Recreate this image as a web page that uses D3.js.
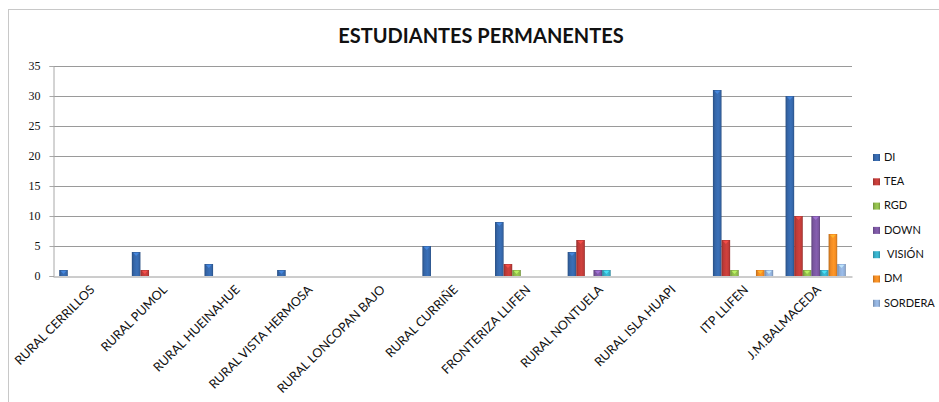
<!DOCTYPE html>
<html><head><meta charset="utf-8">
<script src="https://cdn.jsdelivr.net/npm/d3@7"></script>
<style>body{margin:0;background:#fff}svg{display:block}</style>
</head><body>
<script>
const categories = ["RURAL CERRILLOS","RURAL PUMOL","RURAL HUEINAHUE","RURAL VISTA HERMOSA","RURAL LONCOPAN BAJO","RURAL CURRIÑE","FRONTERIZA LLIFEN","RURAL NONTUELA","RURAL ISLA HUAPI","ITP LLIFEN","J.M.BALMACEDA"];
const seriesNames = ["DI","TEA","RGD","DOWN","VISIÓN","DM","SORDERA"];
const DI      = [1,4,2,1,0,5,9,4,0,31,30];
const TEA     = [0,1,0,0,0,0,2,6,0,6,10];
const RGD     = [0,0,0,0,0,0,1,0,0,1,1];
const DOWN    = [0,0,0,0,0,0,0,1,0,0,10];
const VISION  = [0,0,0,0,0,0,0,1,0,0,1];
const DM      = [0,0,0,0,0,0,0,0,0,1,7];
const SORDERA = [0,0,0,0,0,0,0,0,0,1,2];
const yTicks = [0,5,10,15,20,25,30,35];
const colors = ["#3566a8","#be3b38","#8db84a","#7a56a0","#37abc4","#f08a23","#8fadd6"];
const seriesValues = [DI,TEA,RGD,DOWN,VISION,DM,SORDERA];

(function(){
const W=939,H=402;
const svg=d3.select("body").append("svg").attr("width",W).attr("height",H);
svg.append("rect").attr("x",8.5).attr("y",9.5).attr("width",W+20).attr("height",H+20)
  .attr("fill","#fff").attr("stroke","#c8c8c8");

const pL=53, pR=852, pT=66, pB=276;
const x0=d3.scaleBand().domain(categories).range([pL,pR]);
const x1=d3.scaleBand().domain(seriesNames).range([0,x0.bandwidth()]).paddingOuter(0.72);
const y=d3.scaleLinear().domain([0,35]).range([pB,pT]);

const defs=svg.append("defs");
colors.forEach((c,i)=>{
  const g=defs.append("linearGradient").attr("id","g"+i).attr("x1","0").attr("x2","1").attr("y1","0").attr("y2","0");
  const dk=d3.color(c).darker(0.7), lt=d3.color(c).brighter(0.25);
  g.append("stop").attr("offset","0").attr("stop-color",dk);
  g.append("stop").attr("offset","0.25").attr("stop-color",c);
  g.append("stop").attr("offset","0.6").attr("stop-color",lt);
  g.append("stop").attr("offset","0.85").attr("stop-color",c);
  g.append("stop").attr("offset","1").attr("stop-color",dk);
});

svg.append("g").selectAll("line").data(yTicks.filter(d=>d>0)).join("line")
  .attr("x1",pL).attr("x2",pR).attr("y1",d=>Math.round(y(d))+0.5).attr("y2",d=>Math.round(y(d))+0.5)
  .attr("stroke","#9a9a9a").attr("stroke-width",1);

const ya=svg.append("g").attr("transform",`translate(${pL+0.5},0)`)
  .call(d3.axisLeft(y).tickValues(yTicks).tickSize(4).tickPadding(9));
ya.select(".domain").attr("stroke","#a8a8a8");
ya.selectAll(".tick line").attr("stroke","#a8a8a8");
ya.selectAll("text").attr("font-family","'Liberation Serif',serif").attr("font-size",12).attr("fill","#111");

const xa=svg.append("g").attr("transform",`translate(0,${pB+0.5})`)
  .call(d3.axisBottom(x0).tickSize(0).tickFormat(d=>d));
xa.select(".domain").attr("stroke","#9a9a9a");
xa.selectAll("text").attr("font-family","Lato,sans-serif").attr("font-size",12.5).attr("fill","#111")
  .attr("text-anchor","end").attr("dy",0).attr("y",0)
  .attr("transform","translate(6,14) rotate(-45)");

const groups=svg.append("g").selectAll("g").data(categories).join("g")
  .attr("transform",d=>`translate(${x0(d)},0)`);
groups.each(function(cat,ci){
  const g=d3.select(this);
  seriesNames.forEach((s,si)=>{
    const v=seriesValues[si][ci];
    if(!v) return;
    const bx=x1(s), bw=x1.bandwidth(), by=y(v), bh=pB-y(v);
    g.append("rect").attr("x",bx).attr("y",by).attr("width",bw).attr("height",bh)
      .attr("fill",`url(#g${si})`);
    g.append("path").attr("d",`M${bx+1.5},${by+1}L${bx+bw-1.5},${by+1}L${bx+bw/2},${by+4}Z`)
      .attr("fill",d3.color(colors[si]).brighter(0.9)).attr("opacity",0.8);
  });
});

svg.append("text").attr("x",481).attr("y",43).attr("text-anchor","middle")
  .attr("font-family","Lato,sans-serif").attr("font-weight","bold").attr("font-size",20)
  .attr("fill","#111").text("ESTUDIANTES PERMANENTES");

const lg=svg.append("g").selectAll("g").data(seriesNames).join("g")
  .attr("transform",(d,i)=>`translate(873,${157+i*24.3})`);
lg.append("rect").attr("x",0).attr("y",-3).attr("width",7).attr("height",7).attr("fill",(d,i)=>`url(#g${i})`);
lg.append("text").attr("x",(d)=>d==="VISIÓN"?14:11).attr("y",0).attr("dy","0.35em")
  .attr("font-family","Lato,sans-serif").attr("font-size",11).attr("fill","#111").text(d=>d);
})();
</script>
</body></html>
